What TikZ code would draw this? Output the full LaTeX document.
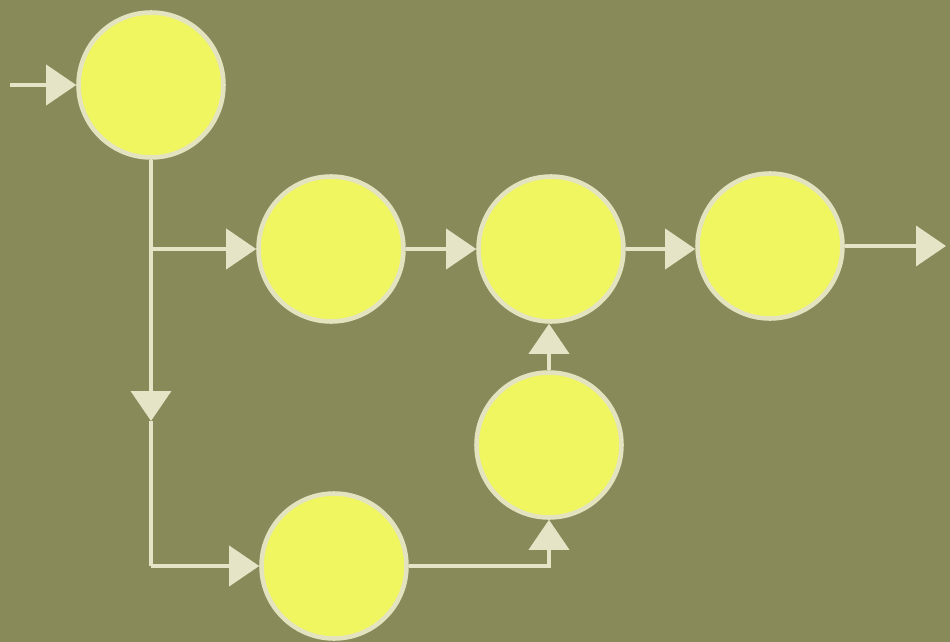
\documentclass[tikz,border=0pt]{standalone}
\usetikzlibrary{arrows.meta}

\definecolor{board}{RGB}{136,138,90}
\definecolor{disc}{RGB}{240,246,96}
\definecolor{rim}{RGB}{228,227,192}
\definecolor{wire}{RGB}{230,228,198}

\tikzset{
  unit/.style={circle, fill=disc, draw=rim, line width=2.6pt,
    minimum size=2.9cm, inner sep=0pt},
  flow/.style={wire, line width=2.1pt,
    -{Triangle[length=6mm,width=8mm,fill=wire]}},
  plain/.style={wire, line width=2.1pt}
}

\begin{document}
\begin{tikzpicture}[x=0.02cm,y=-0.02cm]
  % Background
  \fill[board] (0,0) rectangle (950,642);
  % Circles
  \node[unit] (a) at (151,85) {};
  \node[unit] (b) at (331,249) {};
  \node[unit] (c) at (551,249) {};
  \node[unit] (d) at (770,246) {};
  \node[unit] (e) at (549,445) {};
  \node[unit] (f) at (334,566) {};
  % Free ends
  \coordinate (in) at (10,85);
  \coordinate (out) at (946,246);
  \coordinate (down) at (151,421);
  % Connectors
  \draw[flow] (in) -- (a.west);
  \draw[flow] (a.south) -- (down);
  \draw[plain] (down) -- (down |- f.west);
  \draw[flow] (down |- f.west) -- (f.west);
  \draw[flow] (a.south |- b.west) -- (b.west);
  \draw[flow] (b.east) -- (c.west);
  \draw[flow] (c.east) -- (c.east -| d.west);
  \draw[flow] (d.east) -- (out);
  \draw[flow] (e.north) -- (e.north |- c.south);
  \draw[flow] (f.east) -| (e.south);
\end{tikzpicture}
\end{document}
